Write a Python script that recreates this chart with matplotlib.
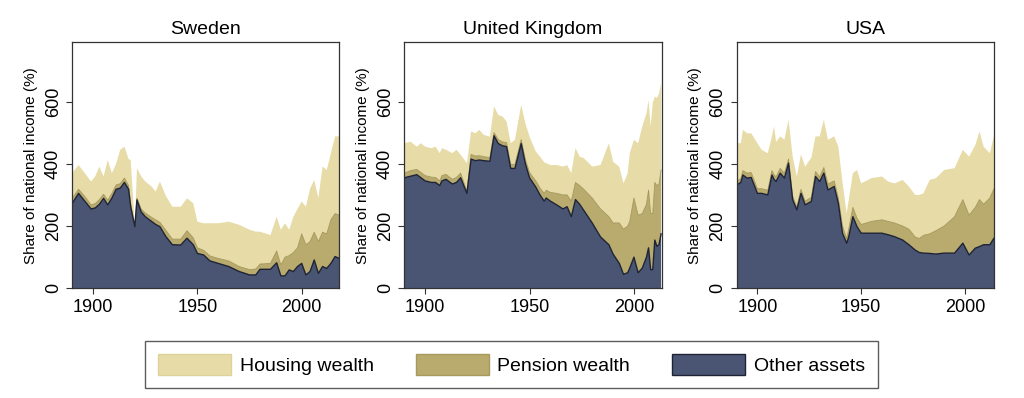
import matplotlib
matplotlib.use('Agg')
import matplotlib.pyplot as plt
from matplotlib.patches import Patch
import numpy as np

plt.rcParams['font.family'] = ['Liberation Sans', 'DejaVu Sans']

# Sweden: other assets (N), top of pension (P), total incl. housing (T)
se_years = [1890,1893,1896,1899,1901,1903,1905,1907,1909,1911,1913,1915,1917,1918,1920,1921,1923,1925,1928,1930,
            1932,1935,1938,1942,1945,1948,1950,1953,1956,1960,1965,1970,1975,1978,1980,1985,1988,1990,1992,1994,
            1996,1998,2000,2002,2004,2006,2008,2010,2012,2014,2016,2018]
se_N = [273,305,280,255,258,270,289,268,290,318,322,340,318,262,198,284,246,230,215,205,
        198,165,140,139,161,140,112,107,88,80,70,54,43,43,61,61,82,40,40,59,
        54,70,80,43,54,91,48,70,64,80,102,96]
se_P = [290,318,295,268,272,285,302,283,305,332,336,354,330,272,200,290,255,242,228,220,
        212,185,158,158,185,162,130,122,104,96,88,70,60,62,78,80,120,75,100,105,
        115,130,175,140,150,180,150,180,175,220,240,235]
se_T = [370,396,370,343,360,391,359,412,370,400,445,455,415,412,200,386,360,343,327,311,
        343,295,262,262,289,273,214,209,209,209,214,204,188,182,182,171,230,188,209,188,
        230,255,279,262,320,348,290,391,380,434,488,488]

uk_years = [1890,1893,1896,1898,1900,1903,1905,1907,1908,1910,1913,1915,1917,1920,1922,1924,1926,1928,1931,1933,
            1935,1937,1939,1941,1943,1946,1948,1950,1953,1955,1957,1958,1960,1963,1966,1968,1970,1972,1974,1976,
            1980,1984,1988,1990,1993,1995,1997,1998,2000,2002,2004,2006,2007,2008,2009,2010,2011,2012,2013]
uk_N = [355,360,365,355,345,340,340,330,345,350,335,340,355,305,415,410,412,410,408,490,
        465,458,455,385,385,465,400,355,325,300,280,290,280,268,255,262,230,285,270,250,
        210,165,140,110,80,45,50,65,100,50,65,100,130,60,60,155,135,140,175]
uk_P = [370,378,382,372,362,357,356,345,362,366,350,356,370,312,430,425,426,423,420,500,
        478,470,468,398,398,478,415,372,345,322,305,315,308,305,300,300,280,340,330,318,
        290,255,230,210,210,190,200,215,290,235,240,270,315,240,240,340,330,335,380]
uk_T = [466,471,455,466,455,450,455,434,450,445,434,445,429,402,504,498,509,493,487,584,
        557,552,536,466,477,589,530,487,439,423,405,402,396,396,391,396,370,450,423,418,
        391,396,466,407,390,337,370,434,477,466,520,562,605,520,595,616,611,625,659]

us_years = [1890,1892,1893,1895,1897,1900,1902,1905,1907,1908,1909,1911,1913,1915,1917,1919,1921,1923,1926,1928,
            1930,1932,1934,1937,1939,1941,1943,1944,1946,1948,1950,1955,1960,1963,1966,1970,1973,1976,1978,1980,
            1983,1986,1990,1995,1999,2002,2005,2007,2009,2012,2014]
us_N = [332,340,364,354,356,305,305,300,364,350,343,370,354,402,284,252,305,268,279,359,
        343,370,316,327,273,177,145,165,230,198,177,177,177,172,166,155,140,123,115,113,
        112,110,113,113,145,107,129,134,140,140,161]
us_P = [345,352,378,370,372,320,320,315,378,365,358,385,370,415,296,262,318,280,292,375,
        358,388,335,345,290,200,160,190,260,225,205,215,220,215,210,200,190,165,160,170,
        175,185,200,230,285,235,260,285,270,290,320]
us_T = [466,466,509,498,498,466,445,434,488,520,470,488,477,541,423,359,430,391,420,488,
        488,541,477,488,455,340,241,284,370,380,337,354,359,343,337,348,327,300,300,305,
        348,354,380,386,445,423,460,504,455,434,490]

countries = ['Sweden', 'United Kingdom', 'USA']
series = [(se_years, se_N, se_P, se_T), (uk_years, uk_N, uk_P, uk_T), (us_years, us_N, us_P, us_T)]
x_ends = [2018, 2013.3, 2014]

c_house = '#e7dca7'
c_pens = '#b9aa6d'
c_other = '#4a5574'
c_line = '#1e2335'

fig = plt.figure(figsize=(10.24, 3.98), dpi=100)
lefts = [0.0706, 0.3948, 0.7194]
widths = [0.2607, 0.2514, 0.2513]

for i in range(3):
    ax = fig.add_axes([lefts[i], 0.2756, widths[i], 0.618])
    yrs, N, P, T = [np.array(a, dtype=float) for a in series[i]]
    other = N
    pension = P - N
    housing = T - P
    ax.stackplot(yrs, other, pension, housing, colors=[c_other, c_pens, c_house], linewidth=0)
    ax.plot(yrs, P, color='#a39557', lw=0.6)
    ax.plot(yrs, N, color=c_line, lw=1.0)
    ax.set_xlim(1890, x_ends[i])
    ax.set_ylim(0, 790)
    ax.set_xticks([1900, 1950, 2000])
    ax.set_yticks([0, 200, 400, 600])
    ax.tick_params(axis='both', labelsize=13, length=4, color='#333333', direction='out')
    for lab in ax.get_yticklabels():
        lab.set_rotation(90)
        lab.set_va('center')
    ax.set_ylabel('Share of national income (%)', fontsize=11, labelpad=5)
    ax.set_title(countries[i], fontsize=14, pad=6)
    for s in ax.spines.values():
        s.set_color('#333333')
        s.set_linewidth(0.9)

handles = [Patch(facecolor=c_house, edgecolor='#ddd29a', label='Housing wealth'),
           Patch(facecolor=c_pens, edgecolor='#a89a5c', label='Pension wealth'),
           Patch(facecolor=c_other, edgecolor=c_line, label='Other assets')]
leg = fig.legend(handles=handles, loc='center', bbox_to_anchor=(0.4995, 0.084), ncol=3,
                 fontsize=14, frameon=True, fancybox=False, edgecolor='#333333',
                 handlelength=3.75, handleheight=1.3, handletextpad=0.45,
                 columnspacing=2.15, borderpad=0.68)
leg.get_frame().set_linewidth(1.0)

fig.savefig('out.png', dpi=100)
